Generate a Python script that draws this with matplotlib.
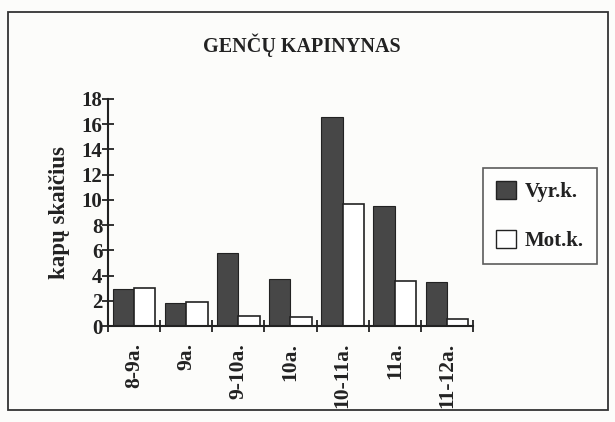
import numpy as np
import matplotlib.pyplot as plt
from matplotlib.patches import Rectangle, Patch

categories = ["8-9a.", "9a.", "9-10a.", "10a.", "10-11a.", "11a.", "11-12a."]
vyr = [2.9, 1.85, 5.8, 3.7, 16.6, 9.5, 3.5]
mot = [3.0, 1.9, 0.8, 0.75, 9.7, 3.6, 0.55]
yticks = list(range(0, 19, 2))

plt.rcParams["font.family"] = ["Liberation Serif", "DejaVu Serif"]
plt.rcParams["font.weight"] = "bold"

dark = "#474747"
ink = "#222222"

fig = plt.figure(figsize=(6.15, 4.22), dpi=100)
fig.patch.set_facecolor("#fcfcfa")
W, H = 615, 422

# outer frame
fig.patches.append(Rectangle((8 / W, 1 - 410 / H), 600 / W, 398 / H,
                             transform=fig.transFigure, fill=False,
                             edgecolor="#333333", lw=1.3))

ax = fig.add_axes([108 / W, 1 - 326 / H, 365 / W, 227 / H])
ax.set_facecolor("none")

x = np.arange(len(categories))
w = 0.41
ax.bar(x - w / 2, vyr, w, color=dark, edgecolor=ink, lw=0.8, label="Vyr.k.")
ax.bar(x + w / 2, mot, w, color="white", edgecolor=ink, lw=1.2, label="Mot.k.")

ax.set_xlim(-0.5, len(categories) - 0.5)
ax.set_ylim(0, 18)
ax.set_yticks(yticks)
ax.tick_params(axis="y", direction="inout", length=8, width=1.3,
               labelsize=15, pad=0, colors=ink)
ax.set_xticks(x)
ax.set_xticklabels(categories, rotation=90, fontsize=15.5)
ax.tick_params(axis="x", length=0, pad=12, colors=ink)
ax.set_xticks(np.arange(-0.5, len(categories)), minor=True)
ax.tick_params(axis="x", which="minor", direction="inout", length=9, width=1.3,
               colors=ink)

for s in ["top", "right"]:
    ax.spines[s].set_visible(False)
for s in ["left", "bottom"]:
    ax.spines[s].set_linewidth(1.5)
    ax.spines[s].set_color(ink)

fig.text(302 / W, 1 - 45 / H, "GENČŲ KAPINYNAS", ha="center", va="center",
         fontsize=14.5, color=ink)
fig.text(60 / W, 1 - 213 / H, "kapų skaičius", ha="center", va="center",
         rotation=90, fontsize=16.5, color=ink)

handles = [Patch(facecolor=dark, edgecolor=ink), Patch(facecolor="white", edgecolor=ink)]
leg = fig.legend(handles, ["Vyr.k.", "Mot.k."], loc="center",
                 bbox_to_anchor=(540 / W, 1 - 216 / H), fontsize=15,
                 frameon=True, fancybox=False, edgecolor="#333333",
                 handlelength=0.95, handleheight=0.95, labelspacing=1.3,
                 borderpad=0.65, handletextpad=0.43, borderaxespad=0)
leg.get_frame().set_linewidth(1.2)
for t in leg.get_texts():
    t.set_color(ink)

fig.savefig("out.png", dpi=100, facecolor=fig.get_facecolor())
